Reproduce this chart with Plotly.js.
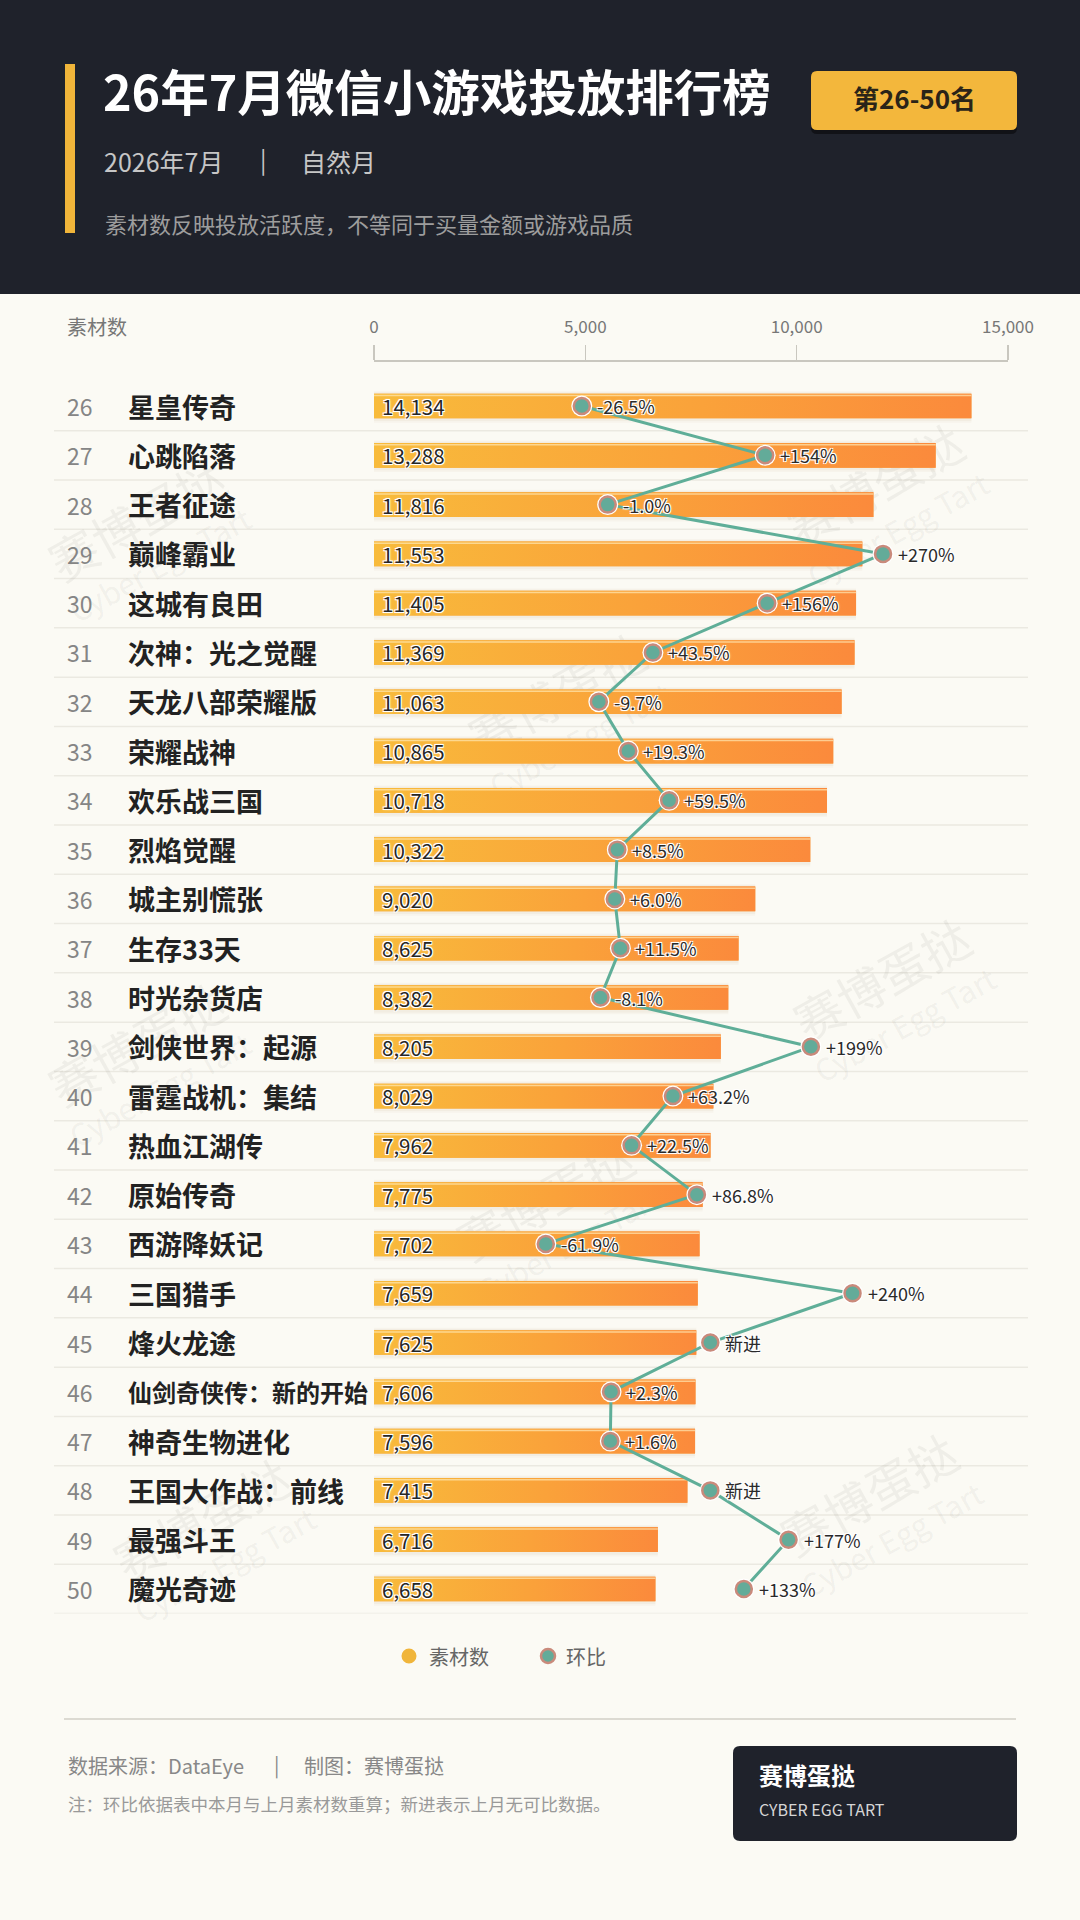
<!DOCTYPE html>
<html>
<head>
<meta charset="utf-8">
<script src="https://cdn.plot.ly/plotly-3.0.1.min.js"></script>
<style>
html,body{margin:0;padding:0;background:#fbfaf4;}
#chart{width:1080px;height:1920px;}
</style>
</head>
<body>
<div id="chart"></div>
<script>
// ---------------- DATA ----------------
const ranks = [26,27,28,29,30,31,32,33,34,35,36,37,38,39,40,41,42,43,44,45,46,47,48,49,50];
const names = ['星皇传奇','心跳陷落','王者征途','巅峰霸业','这城有良田','次神：光之觉醒','天龙八部荣耀版','荣耀战神','欢乐战三国','烈焰觉醒','城主别慌张','生存33天','时光杂货店','剑侠世界：起源','雷霆战机：集结','热血江湖传','原始传奇','西游降妖记','三国猎手','烽火龙途','仙剑奇侠传：新的开始','神奇生物进化','王国大作战：前线','最强斗王','魔光奇迹'];
const counts = [14134,13288,11816,11553,11405,11369,11063,10865,10718,10322,9020,8625,8382,8205,8029,7962,7775,7702,7659,7625,7606,7596,7415,6716,6658];
const mom = [-26.5,154,-1.0,270,156,43.5,-9.7,19.3,59.5,8.5,6.0,11.5,-8.1,199,63.2,22.5,86.8,-61.9,240,null,2.3,1.6,null,177,133];
const newLabel = '新进';
const newPos = 100;              // plotting position used for "新进" entries on the 环比 axis
const countTicks = [0,5000,10000,15000];
const countTickText = ['0','5,000','10,000','15,000'];

// ---------------- HELPERS ----------------
const W = 1080, H = 1920;
const px = x => x / W;
const py = y => 1 - y / H;
const FONT = '"Noto Sans CJK SC", "Noto Sans", sans-serif';
const idx = ranks.map((r, i) => i);
const fmtCount = v => v.toLocaleString('en-US');
const fmtMom = v => v === null ? newLabel : (v > 0 ? '+' : '') + (Math.abs(v) >= 100 ? v.toFixed(0) : v.toFixed(1)) + '%';
const momPos = mom.map(v => v === null ? newPos : v);
const halo = '1px 1px 0 #fff, -1px -1px 0 #fff, 1px -1px 0 #fff, -1px 1px 0 #fff, 0 0 3px #fff';

function rr(x0, y0, x1, y1, r) {
  const P = (x, y) => px(x) + ' ' + py(y);
  return `M ${P(x0 + r, y0)} L ${P(x1 - r, y0)} Q ${P(x1, y0)} ${P(x1, y0 + r)} L ${P(x1, y1 - r)} Q ${P(x1, y1)} ${P(x1 - r, y1)} L ${P(x0 + r, y1)} Q ${P(x0, y1)} ${P(x0, y1 - r)} L ${P(x0, y0 + r)} Q ${P(x0, y0)} ${P(x0 + r, y0)} Z`;
}

// ---------------- TRACES ----------------
const traces = [];
const BW = 0.5;

// soft shadow under bars (two faint layers)
traces.push({
  type: 'bar', orientation: 'h', x: counts, y: idx, width: 0.64, offset: -0.3,
  marker: {color: 'rgba(190,160,120,0.06)', line: {width: 0}},
  hoverinfo: 'skip', showlegend: false, xaxis: 'x', yaxis: 'y'
});
traces.push({
  type: 'bar', orientation: 'h', x: counts, y: idx, width: 0.58, offset: -0.275,
  marker: {color: 'rgba(190,150,100,0.07)', line: {width: 0}},
  hoverinfo: 'skip', showlegend: false, xaxis: 'x', yaxis: 'y'
});
// base bars
traces.push({
  type: 'bar', orientation: 'h', x: counts, y: idx, width: BW,
  marker: {color: '#faa33b', line: {width: 0}},
  name: '素材数', showlegend: false, xaxis: 'x', yaxis: 'y'
});
// gradient overlay for each bar
counts.forEach((v, i) => {
  traces.push({
    type: 'scatter', mode: 'lines',
    x: [0, v, v, 0, 0],
    y: [i - BW / 2, i - BW / 2, i + BW / 2, i + BW / 2, i - BW / 2],
    fill: 'toself', line: {width: 0},
    fillgradient: {type: 'horizontal', colorscale: [[0, '#f8bb3b'], [0.55, '#faa23a'], [1, '#fb8a3c']]},
    hoverinfo: 'skip', showlegend: false, xaxis: 'x', yaxis: 'y'
  });
});
// top highlight on bars
const hx = [], hy = [];
counts.forEach((v, i) => { hx.push(0, v, null); hy.push(i - BW / 2 + 0.035, i - BW / 2 + 0.035, null); });
traces.push({
  type: 'scatter', mode: 'lines', x: hx, y: hy,
  line: {color: 'rgba(255,232,180,0.7)', width: 1.5},
  hoverinfo: 'skip', showlegend: false, xaxis: 'x', yaxis: 'y'
});
// 环比 line
traces.push({
  type: 'scatter', mode: 'lines', x: momPos, y: idx,
  line: {color: '#5fae98', width: 3},
  hoverinfo: 'skip', showlegend: false, xaxis: 'x2', yaxis: 'y'
});
// marker halo
traces.push({
  type: 'scatter', mode: 'markers', x: momPos, y: idx,
  marker: {size: 21, color: '#ffffff'},
  hoverinfo: 'skip', showlegend: false, xaxis: 'x2', yaxis: 'y', cliponaxis: false
});
// markers
traces.push({
  type: 'scatter', mode: 'markers', x: momPos, y: idx, name: '环比',
  marker: {size: 16, color: '#63ab99', line: {color: '#c98a7b', width: 2.5}},
  showlegend: false, xaxis: 'x2', yaxis: 'y', cliponaxis: false
});

// ---------------- SHAPES ----------------
const shapes = [];
// header
shapes.push({type: 'rect', xref: 'paper', yref: 'paper', x0: 0, x1: 1, y0: py(294), y1: 1, fillcolor: '#1f222b', line: {width: 0}, layer: 'below'});
shapes.push({type: 'rect', xref: 'paper', yref: 'paper', x0: px(65), x1: px(75), y0: py(233), y1: py(64), fillcolor: '#f0b53a', line: {width: 0}, layer: 'below'});
// badge
shapes.push({type: 'path', xref: 'paper', yref: 'paper', path: rr(811, 74, 1017, 134, 6), fillcolor: 'rgba(0,0,0,0.45)', line: {width: 0}, layer: 'below'});
shapes.push({type: 'path', xref: 'paper', yref: 'paper', path: rr(811, 71, 1017, 130, 6), fillcolor: '#f3b73c', line: {width: 0}, layer: 'below'});
// row separators
idx.forEach(i => {
  shapes.push({type: 'line', xref: 'paper', yref: 'y', x0: px(54), x1: px(1028), y0: i + 0.5, y1: i + 0.5, line: {color: '#ebe9e1', width: 1.5}, layer: 'below'});
});
// watermarks
const wm = [[140, 525], [878, 490], [560, 700], [140, 1050], [885, 985], [548, 1205], [205, 1525], [872, 1500]];
wm.forEach(([cx, cy]) => {
  shapes.push({type: 'rect', xref: 'paper', yref: 'paper', x0: px(cx - 100), x1: px(cx + 100), y0: py(cy + 25), y1: py(cy - 25),
    line: {width: 0}, fillcolor: 'rgba(0,0,0,0)', layer: 'below',
    label: {text: '赛博蛋挞', textangle: -29, textposition: 'middle center', font: {family: FONT, size: 48, color: 'rgba(120,118,105,0.085)'}}});
  shapes.push({type: 'rect', xref: 'paper', yref: 'paper', x0: px(cx + 22 - 100), x1: px(cx + 22 + 100), y0: py(cy + 43 + 20), y1: py(cy + 43 - 20),
    line: {width: 0}, fillcolor: 'rgba(0,0,0,0)', layer: 'below',
    label: {text: 'Cyber Egg Tart', textangle: -29, textposition: 'middle center', font: {family: FONT, size: 30, color: 'rgba(120,118,105,0.085)'}}});
});
// legend symbols
shapes.push({type: 'circle', xref: 'paper', yref: 'paper', x0: px(401.5), x1: px(416.5), y0: py(1663.5), y1: py(1648.5), fillcolor: '#f0b53a', line: {width: 0}});
shapes.push({type: 'circle', xref: 'paper', yref: 'paper', x0: px(541), x1: px(555), y0: py(1663), y1: py(1649), fillcolor: '#63ab99', line: {color: '#c98a7b', width: 2.5}});
// footer line
shapes.push({type: 'line', xref: 'paper', yref: 'paper', x0: px(64), x1: px(1016), y0: py(1719), y1: py(1719), line: {color: '#dcdad2', width: 2}});
// footer brand box
shapes.push({type: 'path', xref: 'paper', yref: 'paper', path: rr(733, 1746, 1017, 1841, 7), fillcolor: '#1f222b', line: {width: 0}});

// ---------------- ANNOTATIONS ----------------
const ann = [];
const A = (text, x, y, size, color, extra) => Object.assign({
  text, xref: 'paper', yref: 'paper', x: px(x), y: py(y), xanchor: 'left', yanchor: 'middle',
  showarrow: false, font: {family: FONT, size, color}
}, extra || {});
ann.push(A('<b>26年7月微信小游戏投放排行榜</b>', 101, 90, 48.5, '#ffffff'));
ann.push(A('<b>第26-50名</b>', 914, 98, 26, '#2a2418', {xanchor: 'center'}));
ann.push(A('2026年7月', 102, 161, 25, '#c6c6c6'));
ann.push(A('|', 258, 159, 24, '#c6c6c6'));
ann.push(A('自然月', 299, 161, 25, '#c6c6c6'));
ann.push(A('素材数反映投放活跃度，不等同于买量金额或游戏品质', 103, 223, 22, '#9d9d9d'));
ann.push(A('素材数', 65, 327, 20, '#777777'));
// legend text
ann.push(A('素材数', 427, 1656, 20, '#666666'));
ann.push(A('环比', 564, 1656, 20, '#666666'));
// footer text
ann.push(A('数据来源：DataEye', 66, 1765, 20, '#888888'));
ann.push(A('|', 272, 1764, 20, '#888888'));
ann.push(A('制图：赛博蛋挞', 302, 1765, 20, '#888888'));
ann.push(A('注：环比依据表中本月与上月素材数重算；新进表示上月无可比数据。', 66, 1803, 17.5, '#999999'));
ann.push(A('<b>赛博蛋挞</b>', 757, 1774, 24, '#ffffff'));
ann.push(A('CYBER EGG TART', 757, 1809, 16, '#d6d6d6'));

// rank numbers & names
idx.forEach(i => {
  ann.push({text: String(ranks[i]), xref: 'paper', yref: 'y', x: px(65), y: i, xanchor: 'left', yanchor: 'middle', showarrow: false,
    font: {family: FONT, size: 23, color: '#858585'}});
  ann.push({text: '<b>' + names[i] + '</b>', xref: 'paper', yref: 'y', x: px(126), y: i, xanchor: 'left', yanchor: 'middle', showarrow: false,
    font: {family: FONT, size: names[i].length > 8 ? 24 : 27, color: '#222222'}});
  // value labels
  ann.push({text: fmtCount(counts[i]), xref: 'x', yref: 'y', x: 0, y: i, xanchor: 'left', yanchor: 'middle', xshift: 6, showarrow: false,
    font: {family: FONT, size: 20.5, color: '#262626', shadow: halo}});
  // 环比 labels
  ann.push({text: fmtMom(mom[i]), xref: 'x2', yref: 'y', x: momPos[i], y: i, xanchor: 'left', yanchor: 'middle', xshift: 13, showarrow: false,
    font: {family: FONT, size: 18, color: '#2a2a2a', shadow: halo}});
});

// ---------------- LAYOUT ----------------
const layout = {
  width: W, height: H,
  margin: {l: 0, r: 0, t: 0, b: 0, pad: 0},
  paper_bgcolor: '#fbfaf4', plot_bgcolor: 'rgba(0,0,0,0)',
  font: {family: FONT},
  showlegend: false,
  barmode: 'overlay',
  xaxis: {
    domain: [px(374), px(1008)], range: [0, 15000], side: 'top', anchor: 'free', position: py(360),
    tickvals: countTicks, ticktext: countTickText, ticks: 'outside', ticklen: 15, tickwidth: 1.5, tickcolor: '#c9c7bf',
    showline: true, linecolor: '#c9c7bf', linewidth: 1.5, showgrid: false, zeroline: false,
    tickfont: {family: FONT, size: 17, color: '#777777'}, ticklabelstandoff: 5, fixedrange: true
  },
  xaxis2: {
    domain: [px(374), px(1008)], range: [-231, 393], overlaying: 'x', anchor: 'y', visible: false, fixedrange: true
  },
  yaxis: {
    domain: [py(1613.6), py(381.4)], range: [24.5, -0.5], visible: false, fixedrange: true
  },
  shapes, annotations: ann
};

Plotly.newPlot('chart', traces, layout, {displayModeBar: false, staticPlot: true});
</script>
</body>
</html>
